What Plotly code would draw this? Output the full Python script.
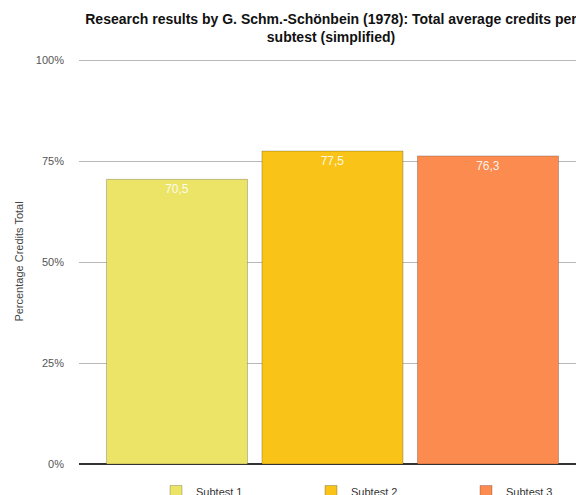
import plotly.graph_objects as go

categories = ["Subtest 1", "Subtest 2", "Subtest 3"]
values = [70.5, 77.5, 76.3]
colors = ["#ECE467", "#F9C318", "#FC8B4F"]
y_ticks = [0, 25, 50, 75, 100]
y_tick_labels = ["0%", "25%", "50%", "75%", "100%"]

fig = go.Figure()
for i, (cat, val, col) in enumerate(zip(categories, values, colors)):
    fig.add_trace(go.Bar(
        x=[i], y=[val], name=cat,
        marker=dict(color=col, line=dict(color="rgba(0,0,0,0.22)", width=1)),
        text=[f"{val:.1f}".replace(".", ",")],
        textposition="inside", insidetextanchor="end",
        textfont=dict(family="Liberation Sans, Arial", size=12, color="rgba(255,255,255,0.9)"),
        width=0.907,
    ))

fig.update_layout(
    width=576, height=495,
    margin=dict(l=79, r=0, t=59, b=31, autoexpand=False),
    paper_bgcolor="white", plot_bgcolor="white",
    font=dict(family="Liberation Sans, Arial", color="#444"),
    title=dict(
        text="Research results by G. Schm.-Schönbein (1978): Total average credits per<br>subtest (simplified)",
        x=331/576, xanchor="center", xref="container",
        y=1 - 24/495, yanchor="top",
        font=dict(family="Liberation Sans, Arial", size=14, color="#111", weight="bold"),
    ),
    barmode="overlay",
    showlegend=True,
    legend=dict(
        orientation="h", x=(156 - 79) / 497, xanchor="left",
        y=-(477 - 464) / 405, yanchor="top",
        entrywidth=110, entrywidthmode="pixels",
        font=dict(size=11, color="#333"),
        traceorder="normal",
    ),
    xaxis=dict(range=[-0.63, 2.566], showticklabels=False, showgrid=False,
               zeroline=False, showline=False, fixedrange=True),
    yaxis=dict(range=[0, 100.3], tickvals=y_ticks, ticktext=y_tick_labels,
               showgrid=True, gridcolor="#b8b8b8", gridwidth=1,
               zeroline=True, zerolinecolor="#333", zerolinewidth=1.5,
               showline=False, ticks="", ticklabelstandoff=14,
               tickfont=dict(size=11, color="#555"),
               title=dict(text="Percentage Credits Total", standoff=10,
                          font=dict(size=11, color="#444"))),
)

fig.write_html(
    "out.html",
    config={"displayModeBar": False},
    post_script="document.body.style.margin='0';document.body.style.overflow='hidden';",
)
